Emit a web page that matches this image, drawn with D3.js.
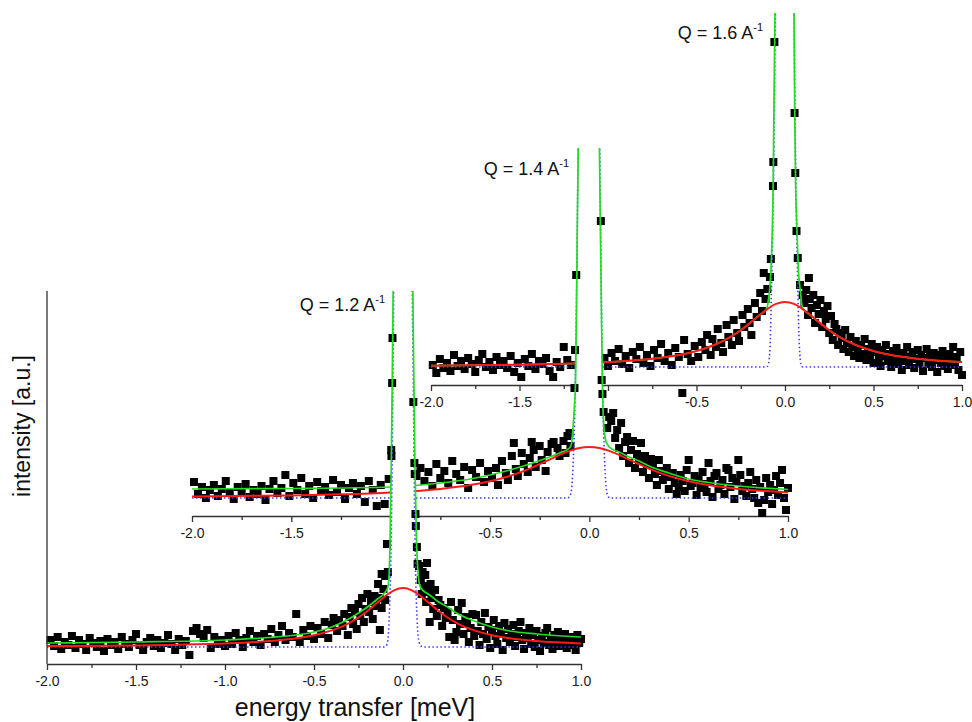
<!DOCTYPE html>
<html><head><meta charset="utf-8">
<script src="https://cdn.jsdelivr.net/npm/d3@7"></script>
<style>
body{margin:0;background:#fff;}
svg{display:block;font-family:Arial,"Liberation Sans",sans-serif;}
</style></head>
<body><svg id="chart" width="972" height="722"></svg>
<script>
// ---------- DATA (energy transfer in meV, intensity in a.u.) ----------
const majorTicks = [-2, -1.5, -1, -0.5, 0, 0.5, 1];
const minorTicks = [-1.75, -1.25, -0.75, -0.25, 0.25, 0.75];
const tickLabels1 = ["-2.0", "-1.5", "-1.0", "-0.5", "0.0", "0.5", "1.0"];
const tickLabels2 = ["-2.0", "-1.5", "", "-0.5", "0.0", "0.5", "1.0"];
const tickLabels3 = ["-2.0", "-1.5", "", "-0.5", "0.0", "0.5", "1.0"];
const qLabels = ["1.2", "1.4", "1.6"];

// Q = 1.2
const points1 = [[-1.98,24],[-1.96,18],[-1.94,27],[-1.92,15],[-1.90,22],[-1.88,19],[-1.86,28],[-1.84,16],[-1.82,24],[-1.80,20],[-1.78,14],[-1.76,26],[-1.74,21],[-1.72,17],[-1.70,23],[-1.68,13],[-1.66,25],[-1.64,19],[-1.62,22],[-1.60,15],[-1.58,27],[-1.56,20],[-1.54,17],[-1.52,24],[-1.50,30],[-1.48,19],[-1.46,14],[-1.44,22],[-1.42,26],[-1.40,18],[-1.38,24],[-1.36,16],[-1.34,21],[-1.32,29],[-1.30,20],[-1.28,14],[-1.26,25],[-1.24,19],[-1.22,23],[-1.20,9],[-1.18,33],[-1.16,36],[-1.14,30],[-1.12,26],[-1.10,34],[-1.08,16],[-1.06,27],[-1.04,20],[-1.02,24],[-1.00,18],
[-0.98,28],[-0.96,20],[-0.94,31],[-0.92,24],[-0.90,17],[-0.88,26],[-0.86,33],[-0.84,22],[-0.82,28],[-0.80,19],[-0.78,30],[-0.76,25],[-0.74,35],[-0.72,22],[-0.70,29],[-0.68,38],[-0.66,24],[-0.64,31],[-0.62,27],[-0.60,50],[-0.58,22],[-0.56,34],[-0.54,28],[-0.52,38],[-0.50,25],
[-0.48,36],[-0.46,30],[-0.44,42],[-0.42,26],[-0.40,39],[-0.39,46],[-0.37,33],[-0.36,44],[-0.34,38],[-0.33,50],[-0.31,29],[-0.30,47],[-0.29,56],[-0.28,40],[-0.27,52],[-0.26,35],[-0.25,60],[-0.24,48],[-0.23,66],[-0.22,42],[-0.21,55],[-0.20,70],[-0.19,52],[-0.18,62],[-0.17,45],[-0.16,68],[-0.15,58],[-0.14,80],[-0.13,34],[-0.13,66],[-0.12,90],[-0.12,56],[-0.11,75],[-0.10,88],[-0.10,64],[-0.09,120],[-0.085,92],
[-0.066,214],[-0.065,208],[-0.061,281],[-0.059,326],[0.058,262],[0.064,201],[0.066,190],[0.07,150],[0.072,138],[0.078,117],[0.082,100],
[0.09,98],[0.10,84],[0.105,70],[0.11,92],[0.12,78],[0.125,89],[0.13,62],[0.135,101],[0.14,72],[0.15,42],[0.155,80],[0.16,66],[0.17,55],[0.18,74],[0.19,48],[0.20,64],[0.21,59],[0.22,38],[0.23,56],[0.24,46],[0.25,52],[0.26,27],[0.27,62],[0.28,44],[0.29,24],[0.30,32],[0.31,54],[0.32,40],[0.33,61],[0.34,30],[0.35,47],[0.36,41],[0.37,22],[0.38,36],[0.39,50],[0.40,28],[0.41,49],[0.42,33],[0.43,19],[0.44,42],[0.45,30],[0.46,51],[0.47,25],[0.48,37],[0.49,16],[0.50,34],[0.51,44],[0.52,28],[0.53,20],[0.54,38],[0.55,31],[0.56,14],[0.57,41],[0.58,26],[0.59,35],[0.60,22],[0.61,30],[0.62,39],[0.63,18],[0.64,27],[0.65,33],[0.66,42],[0.67,24],[0.68,15],[0.69,31],[0.70,26],[0.71,36],[0.72,20],[0.73,29],[0.74,17],[0.75,33],[0.76,24],[0.77,13],[0.78,28],[0.79,21],[0.80,31],[0.81,36],[0.82,19],[0.83,25],[0.84,15],[0.85,29],[0.86,22],[0.87,32],[0.88,18],[0.89,26],[0.90,20],[0.91,30],[0.92,16],[0.93,24],[0.94,27],[0.95,19],[0.96,23],[0.97,14],[0.98,29],[0.99,21],[1.00,25]];
const red1 = [[-2,17.9],[-1.5,18.6],[-1.25,19.3],[-1,20.5],[-0.75,22.9],[-0.6,25.7],[-0.5,28.8],[-0.4,33.6],[-0.35,36.9],[-0.3,41.2],[-0.25,46.5],[-0.2,53],[-0.15,60.4],[-0.1,67.8],[-0.05,73.7],[0,76],[0.05,73.7],[0.1,67.8],[0.15,60.4],[0.2,53],[0.25,46.5],[0.3,41.2],[0.35,36.9],[0.4,33.6],[0.5,28.8],[0.6,25.7],[0.75,22.9],[1,20.5]];
const green1 = [[-2,21],[-1.5,22],[-1,24],[-0.75,26.5],[-0.6,29],[-0.5,32],[-0.4,37],[-0.3,45.5],[-0.25,51],[-0.2,57],[-0.15,64],[-0.1,72],[-0.085,77],[-0.078,90],[-0.072,130],[-0.066,200],[-0.06,290],[-0.055,380],[0,4000],[0.055,380],[0.06,300],[0.067,200],[0.075,130],[0.083,95],[0.09,82],[0.1,76],[0.15,69],[0.2,62],[0.25,57],[0.3,51],[0.4,43],[0.5,37],[0.6,33],[0.75,30],[1,27]];
const blue1 = [[-2,17],[-0.11,17],[-0.095,18],[-0.085,24],[-0.078,45],[-0.07,90],[-0.063,170],[-0.057,280],[-0.052,380],[0,4000],[0.052,380],[0.058,280],[0.064,170],[0.071,90],[0.079,45],[0.088,24],[0.1,18],[0.12,17],[1,17]];

// Q = 1.4
const points2 = [[-1.99,34],[-1.97,22],[-1.95,29],[-1.93,18],[-1.91,26],[-1.89,31],[-1.87,20],[-1.85,27],[-1.83,35],[-1.81,23],[-1.79,17],[-1.77,29],[-1.75,24],[-1.73,32],[-1.71,19],[-1.69,26],[-1.67,22],[-1.65,30],[-1.63,16],[-1.61,27],[-1.59,35],[-1.57,23],[-1.55,28],[-1.53,41],[-1.51,20],[-1.49,33],[-1.47,26],[-1.45,38],[-1.43,22],[-1.41,30],[-1.39,18],[-1.37,34],[-1.35,25],[-1.33,29],[-1.31,21],[-1.29,36],[-1.27,24],[-1.25,31],[-1.23,17],[-1.21,28],[-1.19,33],[-1.17,22],[-1.15,30],[-1.13,14],[-1.11,35],[-1.09,26],[-1.07,10],[-1.05,31],[-1.03,12],[-1.01,37],
[-0.87,40],[-0.85,48],[-0.83,35],[-0.81,44],[-0.79,30],[-0.77,52],[-0.75,38],[-0.73,45],[-0.71,33],[-0.69,55],[-0.67,42],[-0.65,36],[-0.63,49],[-0.61,28],[-0.59,46],[-0.57,39],[-0.55,53],[-0.53,34],[-0.51,45],
[-0.49,38],[-0.47,48],[-0.46,31],[-0.44,55],[-0.42,43],[-0.41,36],[-0.39,60],[-0.38,73],[-0.37,47],[-0.36,40],[-0.34,63],[-0.33,52],[-0.31,44],[-0.30,58],[-0.29,74],[-0.28,66],[-0.27,49],[-0.25,70],[-0.24,56],[-0.22,45],[-0.21,64],[-0.19,72],[-0.18,74],[-0.16,68],[-0.15,60],[-0.13,75],[-0.12,63],[-0.11,80],[-0.10,83],[-0.095,70],
[-0.075,128],[-0.072,166],[-0.066,241],[0.058,295],[0.062,136],[0.066,122],[0.072,104],
[0.09,88],[0.10,99],[0.11,95],[0.12,103],[0.13,78],[0.14,86],[0.15,68],[0.16,93],[0.17,60],[0.18,74],[0.19,79],[0.20,53],[0.21,66],[0.22,75],[0.23,48],[0.24,62],[0.25,55],[0.26,73],[0.27,44],[0.28,60],[0.29,52],[0.30,38],[0.31,57],[0.32,50],[0.33,42],[0.34,31],[0.35,56],[0.36,45],[0.37,36],[0.38,40],[0.39,48],[0.40,27],[0.41,39],[0.42,43],[0.43,33],[0.44,22],[0.45,29],[0.46,41],[0.47,35],[0.48,25],[0.49,46],[0.50,56],[0.51,30],[0.52,33],[0.53,40],[0.54,21],[0.55,37],[0.56,28],[0.57,44],[0.58,32],[0.59,24],[0.60,53],[0.61,35],[0.62,19],[0.63,40],[0.64,43],[0.65,27],[0.66,31],[0.67,36],[0.68,22],[0.69,48],[0.70,46],[0.71,29],[0.72,38],[0.73,17],[0.74,34],[0.75,56],[0.76,41],[0.77,25],[0.78,30],[0.79,20],[0.80,33],[0.81,44],[0.82,27],[0.83,18],[0.84,36],[0.85,13],[0.86,29],[0.87,3],[0.88,16],[0.89,38],[0.90,24],[0.91,31],[0.92,12],[0.93,26],[0.94,40],[0.95,21],[0.96,33],[0.97,46],[0.98,18],[0.99,6],[1.00,28]];
const red2 = [[-2,19.5],[-1.5,20.6],[-1.25,21.7],[-1,23.6],[-0.75,27.1],[-0.6,30.9],[-0.5,34.8],[-0.4,40.1],[-0.3,47.4],[-0.25,51.8],[-0.2,56.4],[-0.15,61.1],[-0.1,65.1],[-0.05,68],[0,69],[0.05,68],[0.1,65.1],[0.15,61.1],[0.2,56.4],[0.25,51.8],[0.3,47.4],[0.4,40.1],[0.5,34.8],[0.6,30.9],[0.75,27.1],[1,23.6]];
const green2 = [[-2,27],[-1.5,27.5],[-1,29],[-0.75,33],[-0.6,37],[-0.5,41],[-0.4,46],[-0.3,52],[-0.2,59],[-0.15,63],[-0.1,68],[-0.09,72],[-0.083,86],[-0.075,110],[-0.07,129],[-0.065,200],[-0.06,300],[-0.055,380],[0,4000],[0.05,380],[0.055,300],[0.06,220],[0.066,129],[0.073,90],[0.082,76],[0.093,71],[0.1,69],[0.15,64],[0.2,59],[0.25,55],[0.3,50],[0.4,43],[0.5,37],[0.6,33.5],[0.75,30],[1,26.5]];
const blue2 = [[-2,18],[-0.115,18],[-0.1,19],[-0.09,26],[-0.082,50],[-0.074,100],[-0.067,180],[-0.061,280],[-0.056,380],[0,4000],[0.052,380],[0.057,280],[0.063,180],[0.07,100],[0.078,50],[0.086,26],[0.096,19],[0.11,18],[1,18]];

// Q = 1.6
const points3 = [[-1.99,20],[-1.97,12],[-1.95,26],[-1.93,17],[-1.91,22],[-1.89,14],[-1.87,30],[-1.85,19],[-1.83,24],[-1.81,16],[-1.79,27],[-1.77,21],[-1.75,13],[-1.73,25],[-1.71,31],[-1.69,18],[-1.67,23],[-1.65,15],[-1.63,28],[-1.61,20],[-1.59,24],[-1.57,17],[-1.55,29],[-1.53,13],[-1.51,22],[-1.49,8],[-1.47,26],[-1.45,19],[-1.43,31],[-1.41,16],[-1.39,24],[-1.37,21],[-1.35,27],[-1.33,14],[-1.31,8],[-1.29,23],[-1.27,18],[-1.25,38],[-1.23,25],[-1.21,20],
[-1.02,27],[-1.00,19],[-0.98,32],[-0.96,24],[-0.94,36],[-0.92,21],[-0.90,29],[-0.88,17],[-0.86,33],[-0.84,26],[-0.82,38],[-0.80,22],[-0.78,30],[-0.76,19],[-0.74,35],[-0.72,27],[-0.70,41],[-0.68,24],[-0.66,32],[-0.64,20],[-0.62,37],[-0.60,28],[-0.58,-8],[-0.57,45],[-0.55,31],[-0.53,24],[-0.51,39],
[-0.49,28],[-0.47,43],[-0.45,35],[-0.44,50],[-0.42,30],[-0.41,46],[-0.39,38],[-0.38,56],[-0.36,42],[-0.35,33],[-0.33,60],[-0.32,48],[-0.30,40],[-0.29,65],[-0.27,52],[-0.26,44],[-0.24,70],[-0.23,58],[-0.21,76],[-0.20,62],[-0.19,50],[-0.17,82],[-0.16,68],[-0.14,92],[-0.13,74],[-0.12,112],[-0.11,86],[-0.10,96],
[-0.085,108],[-0.08,126],[-0.068,199],[-0.066,223],[-0.06,343],[0.054,272],[0.058,212],[0.065,154],[0.072,127],[0.085,100],
[0.10,90],[0.11,82],[0.12,95],[0.13,70],[0.135,107],[0.14,86],[0.15,77],[0.16,90],[0.17,62],[0.18,80],[0.19,71],[0.20,85],[0.21,58],[0.22,74],[0.23,66],[0.24,79],[0.25,52],[0.26,69],[0.27,45],[0.28,61],[0.29,56],[0.30,40],[0.31,52],[0.32,47],[0.33,36],[0.34,55],[0.35,42],[0.36,33],[0.37,48],[0.38,38],[0.39,29],[0.40,44],[0.41,35],[0.42,27],[0.43,40],[0.44,31],[0.45,46],[0.46,25],[0.47,36],[0.48,30],[0.49,41],[0.50,22],[0.51,33],[0.52,38],[0.53,27],[0.54,19],[0.55,35],[0.56,29],[0.57,40],[0.58,24],[0.59,31],[0.60,18],[0.61,34],[0.62,26],[0.63,37],[0.64,21],[0.65,29],[0.66,15],[0.67,32],[0.68,24],[0.69,38],[0.70,20],[0.71,28],[0.72,33],[0.73,17],[0.74,26],[0.75,35],[0.76,22],[0.77,30],[0.78,14],[0.79,27],[0.80,36],[0.81,21],[0.82,29],[0.83,18],[0.84,32],[0.85,25],[0.86,13],[0.87,30],[0.88,22],[0.89,34],[0.90,19],[0.91,27],[0.92,16],[0.93,31],[0.94,24],[0.95,38],[0.96,20],[0.97,28],[0.98,15],[0.99,33],[1.00,10]];
const red3 = [[-2,19.3],[-1.5,20.3],[-1.25,21.2],[-1,22.9],[-0.75,26.2],[-0.6,30],[-0.5,34],[-0.4,40],[-0.3,48.9],[-0.25,54.8],[-0.2,61.6],[-0.15,69],[-0.1,75.9],[-0.05,81.1],[0,83],[0.05,81.1],[0.1,75.9],[0.15,69],[0.2,61.6],[0.25,54.8],[0.3,48.9],[0.4,40],[0.5,34],[0.6,30],[0.75,26.2],[1,22.9]];
const green3 = [[-2,19.3],[-1.5,20.3],[-1.25,21.2],[-1,22.9],[-0.75,26.2],[-0.6,30],[-0.5,34],[-0.4,40],[-0.3,48.9],[-0.25,54.8],[-0.2,61.6],[-0.15,69],[-0.11,75],[-0.1,78],[-0.095,84],[-0.087,95],[-0.077,125],[-0.067,198],[-0.057,372],[-0.053,420],[0,4000],[0.05,390],[0.055,272],[0.059,212],[0.068,152],[0.075,118],[0.088,92],[0.095,80],[0.1,77],[0.15,69],[0.2,61.6],[0.25,54.8],[0.3,48.9],[0.4,40],[0.5,34],[0.6,30],[0.75,26.2],[1,22.9]];
const blue3 = [[-2,18],[-0.11,18],[-0.097,19],[-0.09,25],[-0.083,45],[-0.077,90],[-0.07,150],[-0.063,230],[-0.057,330],[-0.053,390],[0,4000],[0.05,390],[0.055,300],[0.062,200],[0.07,120],[0.077,60],[0.084,30],[0.09,21],[0.1,18],[1,18]];

// ---------- LAYOUT ----------
const layout = [
  {x0: 47,  x1: 581, axisY: 664, top: 291, qx: 385, qy: 311},
  {x0: 192, x1: 788, axisY: 516, top: 148, qx: 569, qy: 175},
  {x0: 431, x1: 962, axisY: 385, top: 13,  qx: 763, qy: 39}
];
const series = [
  {points: points1, red: red1, green: green1, blue: blue1, labels: tickLabels1, q: qLabels[0]},
  {points: points2, red: red2, green: green2, blue: blue2, labels: tickLabels2, q: qLabels[1]},
  {points: points3, red: red3, green: green3, blue: blue3, labels: tickLabels3, q: qLabels[2]}
];

const svg = d3.select("#chart");
const axisColor = "#333";

// draw top panel first so lower panels overlay it
[2, 1, 0].forEach(i => {
  const L = layout[i], S = series[i];
  const x = d3.scaleLinear().domain([-2, 1]).range([L.x0, L.x1]);
  const y = d3.scaleLinear().domain([0, L.axisY - L.top]).range([L.axisY, L.top]);
  const g = svg.append("g");
  const clipId = "clip" + i;
  svg.append("clipPath").attr("id", clipId).append("rect")
    .attr("x", L.x0 - 2).attr("y", L.top).attr("width", L.x1 - L.x0 + 4).attr("height", L.axisY - L.top);

  const line = d3.line().x(d => x(d[0])).y(d => y(d[1])).curve(d3.curveMonotoneX);
  const area = d3.area().x(d => x(d[0])).y0(y(0)).y1(d => y(d[1])).curve(d3.curveMonotoneX);

  // opaque area under the total fit (hides what lies behind the elastic peak)
  g.append("path").datum(S.green).attr("d", area).attr("fill", "#fff").attr("clip-path", `url(#${clipId})`);

  // x axis
  const ax = g.append("g").attr("transform", `translate(0,${L.axisY})`);
  ax.call(d3.axisBottom(x).tickValues(majorTicks).tickSize(6).tickSizeOuter(0)
      .tickFormat((d, k) => S.labels[k]));
  ax.select(".domain").attr("stroke", axisColor).attr("stroke-width", 1.3);
  ax.selectAll(".tick line").attr("stroke", axisColor).attr("stroke-width", 1.3);
  ax.selectAll(".tick text").attr("fill", "#1a1a1a").attr("font-size", 14)
    .attr("font-family", "Arial, 'Liberation Sans', sans-serif").attr("y", 12);
  const axm = g.append("g").attr("transform", `translate(0,${L.axisY})`);
  axm.call(d3.axisBottom(x).tickValues(minorTicks).tickSize(4).tickSizeOuter(0).tickFormat(""));
  axm.select(".domain").remove();
  axm.selectAll(".tick line").attr("stroke", axisColor).attr("stroke-width", 1.3);

  // data points
  g.append("g").selectAll("rect").data(S.points).join("rect")
    .attr("x", d => x(d[0]) - 4).attr("y", d => y(d[1]) - 4)
    .attr("width", 8).attr("height", 8).attr("fill", "#000");

  // fit curves
  const cg = g.append("g").attr("clip-path", `url(#${clipId})`).attr("fill", "none");
  cg.append("path").datum(S.blue).attr("d", line).attr("stroke", "#3c3cff")
    .attr("stroke-width", 1.6).attr("stroke-dasharray", "1.5 2.5");
  cg.append("path").datum(S.green).attr("d", line).attr("stroke", "#22dd22").attr("stroke-width", 1.7);
  cg.append("path").datum(S.red).attr("d", line).attr("stroke", "#ff1a1a").attr("stroke-width", 2);

  // Q label
  const t = g.append("text").attr("x", L.qx).attr("y", L.qy).attr("text-anchor", "end")
    .attr("font-size", 18).attr("fill", "#111");
  t.append("tspan").text(`Q = ${S.q} A`);
  t.append("tspan").attr("dy", -8).attr("font-size", 11).text("-1");

  if (i === 0) {
    g.append("line").attr("x1", L.x0).attr("x2", L.x0).attr("y1", L.top).attr("y2", L.axisY)
      .attr("stroke", axisColor).attr("stroke-width", 1.3);
  }
});

// axis titles
svg.append("text").attr("x", 355).attr("y", 716).attr("text-anchor", "middle")
  .attr("font-size", 25).attr("fill", "#111").text("energy transfer [meV]");
svg.append("text").attr("transform", "translate(30,426) rotate(-90)").attr("text-anchor", "middle")
  .attr("font-size", 23).attr("fill", "#111").text("intensity [a.u.]");
</script>
</body></html>
